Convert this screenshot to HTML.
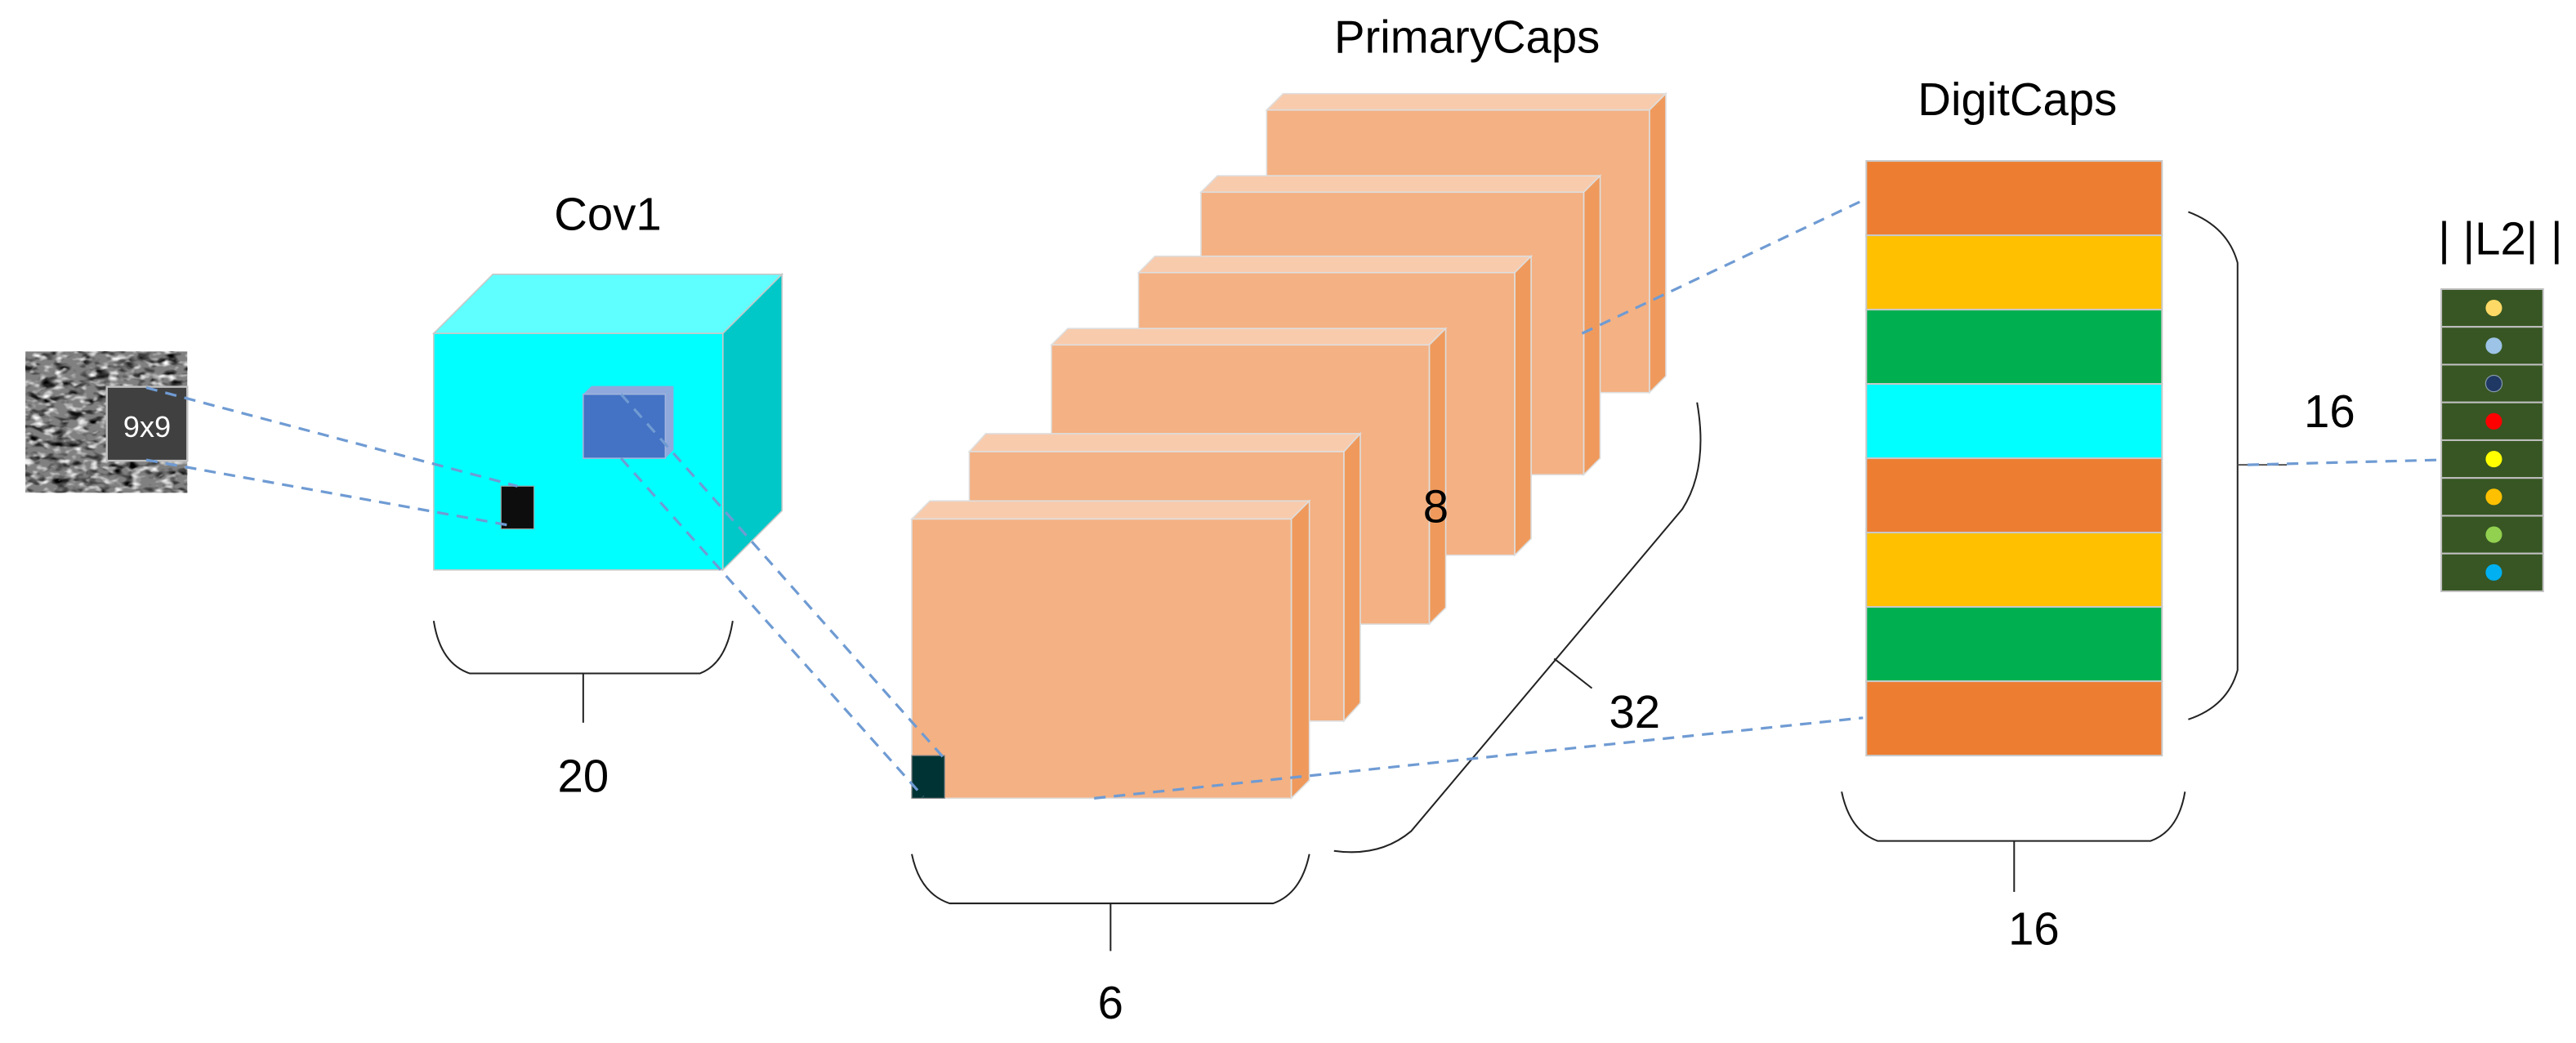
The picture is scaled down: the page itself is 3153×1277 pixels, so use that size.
<!DOCTYPE html>
<html><head><meta charset="utf-8"><style>
html,body{margin:0;padding:0;background:#fff;overflow:hidden}
svg{display:block}
text{font-family:"Liberation Sans",sans-serif;fill:#000}
</style></head><body>
<svg width="3153" height="1277" viewBox="0 0 1568 635" preserveAspectRatio="none" xmlns="http://www.w3.org/2000/svg">
<defs>
<filter id="noise" x="0" y="0" width="100%" height="100%">
<feTurbulence type="fractalNoise" baseFrequency="0.12 0.22" numOctaves="2" seed="5"/>
<feColorMatrix type="matrix" values="0 0 0 0 0  0 0 0 0 0  0 0 0 0 0  -3 0 0 0 1.6"/>
</filter>
<filter id="noise2" x="0" y="0" width="100%" height="100%">
<feTurbulence type="fractalNoise" baseFrequency="0.15 0.25" numOctaves="2" seed="11"/>
<feColorMatrix type="matrix" values="0 0 0 0 1  0 0 0 0 1  0 0 0 0 1  3 0 0 0 -1.5"/>
</filter>
</defs>
<!-- noise input -->
<rect x="15.5" y="214" width="98.5" height="86" fill="#808080"/>
<rect x="15.5" y="214" width="98.5" height="86" filter="url(#noise)"/>
<rect x="15.5" y="214" width="98.5" height="86" filter="url(#noise2)"/>
<rect x="65" y="235.5" width="49" height="45" fill="#404040" stroke="#bfbfbf" stroke-width="1.2"/>
<text x="89.5" y="266" font-size="18" text-anchor="middle" style="fill:#fff">9x9</text>

<!-- Cov1 cube -->
<polygon points="264,203 300,167 476,167 440,203" fill="#5fffff" stroke="#c8c8c8" stroke-width="0.8"/>
<polygon points="440,203 476,167 476,311 440,347" fill="#00c8c8" stroke="#c8c8c8" stroke-width="0.8"/>
<rect x="264" y="203" width="176" height="144" fill="#00ffff" stroke="#c8c8c8" stroke-width="0.8"/>
<text x="370" y="140" font-size="28" text-anchor="middle">Cov1</text>
<rect x="305" y="296" width="20" height="26" fill="#0d0d0d" stroke="#999" stroke-width="0.6"/>
<polygon points="355,240 360,235 410,235 405,240" fill="#8fa9dc"/>
<polygon points="405,240 410,235 410,274 405,279" fill="#8fa9dc"/>
<rect x="355" y="240" width="50" height="39" fill="#4472c4" stroke="#a0b4dc" stroke-width="0.8"/>

<!-- Cov1 bracket -->
<path d="M264,378 Q268,404 286,410 L426,410 Q442,404 446,378" fill="none" stroke="#222" stroke-width="1"/>
<line x1="355" y1="410" x2="355" y2="440" stroke="#222" stroke-width="1"/>
<text x="355" y="482" font-size="28" text-anchor="middle">20</text>

<!-- PrimaryCaps slabs back to front -->
<g stroke="#dedede" stroke-width="0.8">
<g><polygon points="771,67 781,57 1014,57 1004,67" fill="#f8cbad"/><polygon points="1004,67 1014,57 1014,229 1004,239" fill="#ef9a5c"/><rect x="771" y="67" width="233" height="172" fill="#f4b183"/></g>
<g><polygon points="731,117 741,107 974,107 964,117" fill="#f8cbad"/><polygon points="964,117 974,107 974,279 964,289" fill="#ef9a5c"/><rect x="731" y="117" width="233" height="172" fill="#f4b183"/></g>
<g><polygon points="693,166 703,156 932,156 922,166" fill="#f8cbad"/><polygon points="922,166 932,156 932,328 922,338" fill="#ef9a5c"/><rect x="693" y="166" width="229" height="172" fill="#f4b183"/></g>
<g><polygon points="640,210 650,200 880,200 870,210" fill="#f8cbad"/><polygon points="870,210 880,200 880,370 870,380" fill="#ef9a5c"/><rect x="640" y="210" width="230" height="170" fill="#f4b183"/></g>
<g><polygon points="590,275 600,264 828,264 818,275" fill="#f8cbad"/><polygon points="818,275 828,264 828,428 818,439" fill="#ef9a5c"/><rect x="590" y="275" width="228" height="164" fill="#f4b183"/></g>
<g><polygon points="555,316 566,305 797,305 786,316" fill="#f8cbad"/><polygon points="786,316 797,305 797,475 786,486" fill="#ef9a5c"/><rect x="555" y="316" width="231" height="170" fill="#f4b183"/></g>
</g>
<rect x="555" y="460" width="20" height="26" fill="#003333" stroke="#888" stroke-width="0.6"/>
<text x="893" y="32" font-size="28" text-anchor="middle">PrimaryCaps</text>
<text x="874" y="318" font-size="28" text-anchor="middle">8</text>

<!-- slab bracket -->
<path d="M555,520 Q560,544 578,550 L775,550 Q792,544 797,520" fill="none" stroke="#222" stroke-width="1"/>
<line x1="676" y1="550" x2="676" y2="579" stroke="#222" stroke-width="1"/>
<text x="676" y="620" font-size="28" text-anchor="middle">6</text>

<!-- 32 bracket -->
<path d="M812,518 Q840,522 859,506 L1024,310 Q1040,285 1033,245" fill="none" stroke="#222" stroke-width="1"/>
<line x1="946" y1="401" x2="969" y2="419" stroke="#222" stroke-width="1"/>
<text x="995" y="443" font-size="28" text-anchor="middle">32</text>

<!-- DigitCaps -->
<g stroke="#c8c8c8" stroke-width="1">
<rect x="1136" y="98" width="180" height="45.25" fill="#ed7d31"/>
<rect x="1136" y="143.25" width="180" height="45.25" fill="#ffc000"/>
<rect x="1136" y="188.5" width="180" height="45.25" fill="#00b050"/>
<rect x="1136" y="233.75" width="180" height="45.25" fill="#00ffff"/>
<rect x="1136" y="279" width="180" height="45.25" fill="#ed7d31"/>
<rect x="1136" y="324.25" width="180" height="45.25" fill="#ffc000"/>
<rect x="1136" y="369.5" width="180" height="45.25" fill="#00b050"/>
<rect x="1136" y="414.75" width="180" height="45.25" fill="#ed7d31"/>
</g>
<text x="1228" y="70" font-size="28" text-anchor="middle">DigitCaps</text>
<path d="M1121,482 Q1126,506 1143,512 L1309,512 Q1326,506 1330,482" fill="none" stroke="#222" stroke-width="1"/>
<line x1="1226" y1="512" x2="1226" y2="543" stroke="#222" stroke-width="1"/>
<text x="1238" y="575" font-size="28" text-anchor="middle">16</text>
<path d="M1332,129 Q1356,138 1362,160 L1362,408 Q1356,430 1332,438" fill="none" stroke="#222" stroke-width="1"/>
<line x1="1362" y1="283" x2="1392" y2="283" stroke="#555" stroke-width="1"/>
<text x="1418" y="260" font-size="28" text-anchor="middle">16</text>

<!-- L2 column -->
<text x="1522" y="155" font-size="28" text-anchor="middle">| |L2| |</text>
<g stroke="#c0c0c0" stroke-width="1">
<rect x="1486" y="176" width="62" height="23" fill="#375623"/>
<rect x="1486" y="199" width="62" height="23" fill="#375623"/>
<rect x="1486" y="222" width="62" height="23" fill="#375623"/>
<rect x="1486" y="245" width="62" height="23" fill="#375623"/>
<rect x="1486" y="268" width="62" height="23" fill="#375623"/>
<rect x="1486" y="291" width="62" height="23" fill="#375623"/>
<rect x="1486" y="314" width="62" height="23" fill="#375623"/>
<rect x="1486" y="337" width="62" height="23" fill="#375623"/>
</g>
<g>
<circle cx="1518" cy="187.5" r="5" fill="#ffd966"/>
<circle cx="1518" cy="210.5" r="5" fill="#9dc3e6"/>
<circle cx="1518" cy="233.5" r="5" fill="#1f3864" stroke="#8899aa" stroke-width="0.6"/>
<circle cx="1518" cy="256.5" r="5" fill="#ff0000"/>
<circle cx="1518" cy="279.5" r="5" fill="#ffff00"/>
<circle cx="1518" cy="302.5" r="5" fill="#ffc000"/>
<circle cx="1518" cy="325.5" r="5" fill="#92d050"/>
<circle cx="1518" cy="348.5" r="5" fill="#00b0f0"/>
</g>

<!-- dashed connectors -->
<g stroke="#6f9bd3" stroke-width="1.6" stroke-dasharray="7,5" fill="none">
<line x1="89" y1="236" x2="315" y2="296"/>
<line x1="89" y1="280" x2="311" y2="320"/>
<line x1="378" y1="240" x2="575" y2="462"/>
<line x1="378" y1="279" x2="562" y2="485"/>
<line x1="666" y1="486" x2="1134" y2="437"/>
<line x1="963" y1="203" x2="1136" y2="121"/>
<line x1="1368" y1="283" x2="1485" y2="280"/>
</g>
</svg>
</body></html>
